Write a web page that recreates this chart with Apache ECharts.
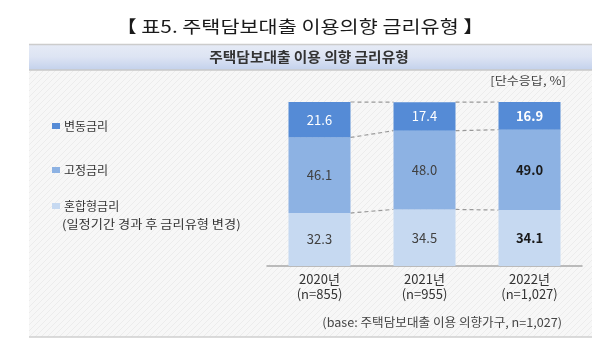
<!DOCTYPE html>
<html><head><meta charset="utf-8">
<script src="https://cdn.jsdelivr.net/npm/echarts@6/dist/echarts.min.js"></script>
<style>html,body{margin:0;padding:0;background:#fff}#c{width:600px;height:358px}</style>
</head><body><div id="c"></div>
<script>
const categories = ['2020년\n(n=855)', '2021년\n(n=955)', '2022년\n(n=1,027)'];
const mixedRate = [32.3, 34.5, 34.1];
const fixedRate = [46.1, 48.0, 49.0];
const variableRate = [21.6, 17.4, 16.9];
const seriesNames = ['혼합형금리', '고정금리', '변동금리'];
const colors = ['#c6d9f1', '#8db2e3', '#558bd6'];
const FONT = '"Noto Sans CJK KR", "Noto Sans", sans-serif';

// connector data: [catIndex, cumulative value at cat i, cumulative value at cat i+1]
const stacks = [mixedRate, fixedRate, variableRate];
const connectors = [];
for (let k = 0; k < stacks.length; k++) {
  const cum = categories.map((_, i) => stacks.slice(0, k + 1).reduce((s, a) => s + a[i], 0));
  for (let i = 0; i < categories.length - 1; i++) connectors.push([i, cum[i], cum[i + 1]]);
}

// hatch pattern
const pc = document.createElement('canvas'); pc.width = 6; pc.height = 6;
const g = pc.getContext('2d');
g.fillStyle = '#f7f7f7'; g.fillRect(0, 0, 6, 6);
g.strokeStyle = '#ececec'; g.lineWidth = 1;
g.beginPath(); g.moveTo(0, 6); g.lineTo(6, 0); g.stroke();

const chart = echarts.init(document.getElementById('c'));
const BW = 62;
function labelFor(dark, white) {
  return {
    show: true, position: 'inside', fontFamily: FONT, fontSize: 13,
    formatter: p => (p.dataIndex === 2 ? '{b|' : '{n|') + p.value.toFixed(1) + '}',
    rich: {
      n: { color: white ? '#ffffff' : '#404040', fontSize: 13, fontFamily: FONT },
      b: { color: white ? '#ffffff' : '#1a1a1a', fontSize: 13, fontWeight: 'bold', fontFamily: FONT }
    }
  };
}
function txt(x, y, text, size, align, scaleX, extra) {
  return Object.assign({ type: 'text', x: x, y: y, scaleX: scaleX, originX: 0, originY: 0,
    style: Object.assign({ text: text, fontFamily: FONT, fontSize: size, fill: '#333', align: align, verticalAlign: 'middle' }, extra || {}) });
}
chart.setOption({
  animation: false,
  graphic: [
    { type: 'rect', z: -10, shape: { x: 29, y: 70, width: 563, height: 267 }, style: { fill: { image: pc, repeat: 'repeat' } } },
    { type: 'line', z: -9, shape: { x1: 29, y1: 337, x2: 592, y2: 337 }, style: { stroke: '#cfcfcf', lineWidth: 1.5 } },
    { type: 'rect', z: -9, shape: { x: 29, y: 44, width: 563, height: 26 },
      style: { fill: new echarts.graphic.LinearGradient(0, 0, 0, 1, [{ offset: 0, color: '#e6ebf6' }, { offset: 0.5, color: '#dde4f3' }, { offset: 1, color: '#c3d1ec' }]) } },
    { type: 'line', z: -8, shape: { x1: 29, y1: 44.5, x2: 592, y2: 44.5 }, style: { stroke: '#cccccc', lineWidth: 1.5 } },
    { type: 'line', z: -8, shape: { x1: 29, y1: 70, x2: 592, y2: 70 }, style: { stroke: '#c8c8c8', lineWidth: 1.5 } },
    txt(300, 27, '【 표5. 주택담보대출 이용의향 금리유형 】', 17, 'center', 1.22, { fill: '#1a1a1a' }),
    txt(309, 57, '주택담보대출 이용 의향 금리유형', 14, 'center', 1.05, { fontWeight: 'bold', fill: '#333' }),
    txt(566, 81, '[단수응답, %]', 11.5, 'right', 1.14, { fill: '#444' }),
    txt(562, 322, '(base: 주택담보대출 이용 의향가구, n=1,027)', 12, 'right', 1.05, { fill: '#444' }),
    txt(62, 224, '(일정기간 경과 후 금리유형 변경)', 12, 'left', 1.1, { fill: '#333' })
  ],
  legend: [
    { data: ['변동금리'], left: 52, top: 120 },
    { data: ['고정금리'], left: 52, top: 164 },
    { data: ['혼합형금리'], left: 52, top: 200 }
  ].map(l => Object.assign(l, { orient: 'vertical', selectedMode: false, icon: 'rect', itemWidth: 8, itemHeight: 6, itemGap: 4, padding: 0,
      textStyle: { fontFamily: FONT, fontSize: 12, color: '#333', padding: [0, 0, 0, -1] } })),
  grid: { left: 267, right: 18, top: 102, bottom: 92 },
  xAxis: {
    type: 'category', data: categories,
    axisLine: { lineStyle: { color: '#a8a8a8', width: 1.5 } }, axisTick: { show: false },
    axisLabel: { fontFamily: FONT, fontSize: 13, color: '#333', lineHeight: 15, margin: 6 }
  },
  yAxis: { type: 'value', min: 0, max: 100, show: false, splitLine: { show: false } },
  series: [
    { name: seriesNames[0], type: 'bar', stack: 's', barWidth: BW, data: mixedRate, itemStyle: { color: colors[0] }, label: labelFor(true, false) },
    { name: seriesNames[1], type: 'bar', stack: 's', barWidth: BW, data: fixedRate, itemStyle: { color: colors[1] }, label: labelFor(true, false) },
    { name: seriesNames[2], type: 'bar', stack: 's', barWidth: BW, data: variableRate, itemStyle: { color: colors[2] }, label: labelFor(false, true) },
    { type: 'custom', name: 'conn', silent: true, data: connectors,
      renderItem: (params, api) => {
        const a = api.coord([api.value(0), api.value(1)]);
        const b = api.coord([api.value(0) + 1, api.value(2)]);
        return { type: 'line', shape: { x1: a[0] + BW / 2, y1: a[1], x2: b[0] - BW / 2, y2: b[1] },
          style: { stroke: '#999', lineWidth: 1.2, lineDash: [4, 3] } };
      } }
  ]
});
</script></body></html>
